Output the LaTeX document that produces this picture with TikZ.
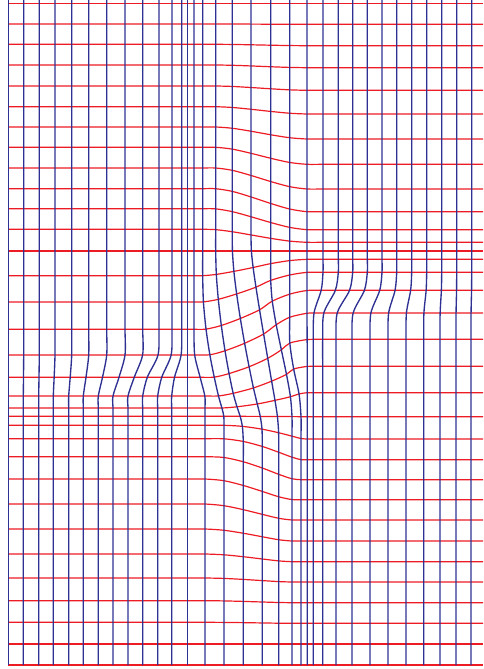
\documentclass[tikz,border=0pt]{standalone}
\definecolor{meshblue}{RGB}{46,49,146}
\definecolor{meshred}{RGB}{237,28,36}
\tikzset{
  blueline/.style={meshblue, line width=1.35pt, line join=round},
  redline/.style={meshred, line width=1.2pt, line join=round}
}
\begin{document}
\begin{tikzpicture}[x=1pt,y=-1pt,
  declare function={
    clampu(\u)=min(max(\u,0),1);
    sst(\u)=3*clampu(\u)^2-2*clampu(\u)^3;
  }]
\useasboundingbox (0,0) rectangle (483,669);
\def\XT{{8.3,23.7,39.3,55,71.7,88.7,106.7,125,142.7,159,172,181.7,187.7,194,202.7,215.7,232.3,251,270.7,289.7,307,323,338.3,352.7,367.3,382,396.7,411.7,426.7,441.7,456.7,471.7}}
\def\XB{{8.3,23.3,38.7,53.3,68.7,83.3,98.3,113,128,142.7,157.7,171.7,187.7,205,224,243.3,262.3,278.7,292,301,307.3,313.3,322.7,336,352,370,388,406,423.7,440,456,471}}
\def\CS{{17,17,17,17,17,17,17,17,16.9,16.7,16.7,16.7,16.8,16.9,16.8,17.1,16.6,16.3,17.0,18.3,17.0,15.4,15.4,15.4,15.4,15.4,15.4,15.4,15.4,15.4,15.4,15.4}}
\def\HS{{1,1,1,1,1,1,1,1,1,1,1,1,1,1.3,3.6,5,5,5,3,1.5,1,0.9,0.9,0.9,0.9,0.9,0.9,0.9,0.9,0.9,0.9,0.9}}
\def\YL{{3.3,24,44.3,65,86,106.7,127,147.3,168,188.7,208.7,229.3,251,275.7,302,329.3,355,377.3,396,408,416.3,425.3,438.7,456.7,479,504,529,554,578,600.7,622.3,644,665}}
\def\YR{{3.3,24.3,45.7,67.7,90.3,114,139,164.3,189,211.7,229.7,242.3,251,259.3,272.3,290.3,313,339.3,366.3,392.7,416.7,439,459.7,479.7,499.7,520,541,561.7,582,602.7,623.3,644,665}}
% mesh vertices
\foreach \i in {0,...,31}{
  \pgfmathsetmacro\mxt{\XT[\i]}
  \pgfmathsetmacro\mxb{\XB[\i]}
  \pgfmathsetmacro\mcs{\CS[\i]}
  \pgfmathsetmacro\mhs{\HS[\i]}
  \coordinate (t-\i) at (\mxt,0);
  \foreach \j in {0,...,32}{
    \pgfmathsetmacro\myl{\YL[\j]}
    \pgfmathsetmacro\myr{\YR[\j]}
    \pgfmathsetmacro\mct{17.5-0.5*sst((\j-9)/4)-1.5*sst((\j-20)/5)}
    \pgfmathsetmacro\mht{2.5+0.8*exp(-((\j-16)/5)^2)}
    \pgfmathsetmacro\mbS{sst((\j-\mcs+\mhs)/(2*\mhs))}
    \pgfmathsetmacro\mbT{sst((\i-\mct+\mht)/(2*\mht))}
    \pgfmathsetmacro\mpx{\mxt+(\mxb-\mxt)*\mbS}
    \pgfmathsetmacro\mpy{\myl+(\myr-\myl)*\mbT}
    \coordinate (m-\i-\j) at (\mpx,\mpy);
  }
}
\foreach \j in {0,...,32}{
  \pgfmathsetmacro\myr{\YR[\j]}
  \coordinate (r-\j) at (483,\myr);
}
% red lines
\foreach \j in {0,...,32}{
  \gdef\plist{}
  \foreach \i in {0,...,31}{\xdef\plist{\plist (m-\i-\j)}}
  \edef\drawcmd{\noexpand\draw[redline] plot[smooth] coordinates {\plist (r-\j)};}
  \drawcmd
}
% blue lines
\foreach \i in {0,...,31}{
  \xdef\plist{(t-\i)}
  \foreach \j in {0,...,32}{\xdef\plist{\plist (m-\i-\j)}}
  \edef\drawcmd{\noexpand\draw[blueline] plot[smooth] coordinates {\plist};}
  \drawcmd
}
\end{tikzpicture}
\end{document}
